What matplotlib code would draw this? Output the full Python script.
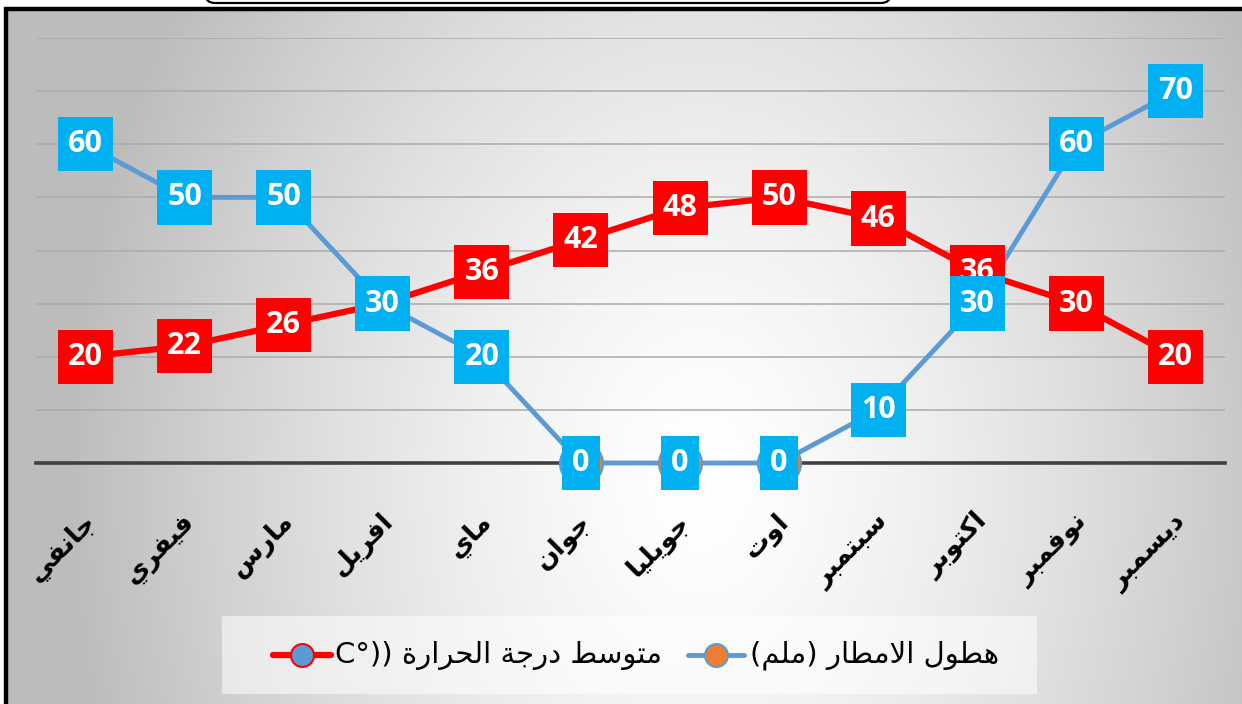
import numpy as np
import matplotlib
matplotlib.use("Agg")
import matplotlib.pyplot as plt
from matplotlib.path import Path
from matplotlib.patches import Rectangle, FancyBboxPatch
import matplotlib.transforms as mtransforms

# data
months = ["جانفي", "فيفري", "مارس", "افريل", "ماي", "جوان",
          "جويليا", "اوت", "سبتمبر", "اكتوبر", "نوفمبر", "ديسمبر"]
rain = [60, 50, 50, 30, 20, 0, 0, 0, 10, 30, 60, 70]
temp = [20, 22, 26, 30, 36, 42, 48, 50, 46, 36, 30, 20]
rain_label = "هطول الامطار (ملم)"
temp_label = "متوسط درجة الحرارة"
temp_unit = "C°))"

# matplotlib does no arabic shaping, so map letters to presentation forms
FORMS = {
    "ا": ("\ufe8d", "\ufe8e"),
    "ب": ("\ufe8f", "\ufe90", "\ufe91", "\ufe92"),
    "ة": ("\ufe93", "\ufe94"),
    "ت": ("\ufe95", "\ufe96", "\ufe97", "\ufe98"),
    "ج": ("\ufe9d", "\ufe9e", "\ufe9f", "\ufea0"),
    "ح": ("\ufea1", "\ufea2", "\ufea3", "\ufea4"),
    "د": ("\ufea9", "\ufeaa"),
    "ر": ("\ufead", "\ufeae"),
    "س": ("\ufeb1", "\ufeb2", "\ufeb3", "\ufeb4"),
    "ط": ("\ufec1", "\ufec2", "\ufec3", "\ufec4"),
    "ف": ("\ufed1", "\ufed2", "\ufed3", "\ufed4"),
    "ك": ("\ufed9", "\ufeda", "\ufedb", "\ufedc"),
    "ل": ("\ufedd", "\ufede", "\ufedf", "\ufee0"),
    "م": ("\ufee1", "\ufee2", "\ufee3", "\ufee4"),
    "ن": ("\ufee5", "\ufee6", "\ufee7", "\ufee8"),
    "ه": ("\ufee9", "\ufeea", "\ufeeb", "\ufeec"),
    "و": ("\ufeed", "\ufeee"),
    "ي": ("\ufef1", "\ufef2", "\ufef3", "\ufef4"),
}
LAM_ALEF = ("\ufefb", "\ufefc")


def shape(text):
    chars = list(text)
    out = []
    i = 0
    while i < len(chars):
        c = chars[i]
        if c not in FORMS:
            out.append(c)
            i += 1
            continue
        prev = chars[i - 1] if i > 0 else ""
        joins_prev = prev in FORMS and len(FORMS[prev]) == 4
        if c == "ل" and i + 1 < len(chars) and chars[i + 1] == "ا":
            out.append(LAM_ALEF[1 if joins_prev else 0])
            i += 2
            continue
        nxt = chars[i + 1] if i + 1 < len(chars) else ""
        f = FORMS[c]
        joins_next = len(f) == 4 and nxt in FORMS
        if joins_prev and joins_next:
            out.append(f[3])
        elif joins_prev:
            out.append(f[1])
        elif joins_next:
            out.append(f[2])
        else:
            out.append(f[0])
        i += 1
    return "".join(out)


def rtl(text):
    return shape(text)[::-1].translate(str.maketrans("()", ")("))


def label_box(x0, y0, width, height, mutation_size):
    px, py = 0.33 * mutation_size, 0.40 * mutation_size
    x0, x1 = x0 - px, x0 + width + px
    y0, y1 = y0 - py, y0 + height + py
    return Path([(x0, y0), (x1, y0), (x1, y1), (x0, y1), (x0, y0)], closed=True)


W, H = 1242, 704
fig = plt.figure(figsize=(12.42, 7.04), dpi=100)

# background in pixel coords (y down)
bg = fig.add_axes([0, 0, 1, 1], zorder=-10)
bg.set_xlim(0, W)
bg.set_ylim(H, 0)
bg.axis("off")
yy, xx = np.mgrid[8:H, 6:W]
d = np.sqrt(((xx - 700) / 600.0) ** 2 + ((yy - 480) / 820.0) ** 2)
val = (255 - 62 * np.clip(d, 0, 1.05) ** 1.4) / 255.0
bg.imshow(np.dstack([val] * 3), extent=(6, W, H, 8), aspect="auto", interpolation="bilinear")
bg.plot([6, 6, W + 10], [H + 10, 8.5, 8.5], color="black", lw=3.2, solid_joinstyle="miter")
bg.add_patch(FancyBboxPatch((205, -40), 686, 43, boxstyle="round,pad=0,rounding_size=10",
                            fc="white", ec="black", lw=1.6))

# legend (drawn by hand, right-to-left)
bg.add_patch(Rectangle((222, 616), 815, 78, fc="white", alpha=0.55, ec="none"))
bg.plot([688, 744], [655, 655], color="#5B9BD5", lw=3.5, solid_capstyle="round")
bg.plot([716], [655], marker="o", ms=16.5, mfc="#ED7D31", mec="#5B9BD5", mew=1.5)
bg.text(750, 655, rtl(rain_label), fontsize=21, va="center", ha="left", family="DejaVu Sans")
bg.plot([273, 331], [655, 655], color="#FF0000", lw=4.5, solid_capstyle="round")
bg.plot([302], [655], marker="o", ms=16.5, mfc="#5B9BD5", mec="#FF0000", mew=1.5)
bg.text(335, 655, temp_unit + " " + rtl(temp_label), fontsize=21, va="center", ha="left",
        family="DejaVu Sans")

# plot area
ax = fig.add_axes([36 / W, 1 - 463 / H, (1225 - 36) / W, (463 - 38) / H])
ax.patch.set_visible(False)
x = np.arange(len(months))
ax.set_xlim(-0.5, 11.5)
ax.set_ylim(0, 80)
ax.set_yticks(range(0, 81, 10))
ax.yaxis.grid(True, color="#ababab", lw=1.1)
ax.set_axisbelow(True)
ax.set_xticks([])
ax.tick_params(left=False, labelleft=False)
for s in ["left", "right", "top"]:
    ax.spines[s].set_visible(False)
ax.spines["bottom"].set_color("#404040")
ax.spines["bottom"].set_linewidth(2.6)

ax.plot(x, temp, color="#FF0000", lw=4.5, marker="o", ms=31, mfc="#5B9BD5",
        mec="#FF0000", mew=1.5, zorder=3, clip_on=False)
ax.plot(x, rain, color="#5B9BD5", lw=3.5, marker="o", ms=31, mfc="#ED7D31",
        mec="#5B9BD5", mew=1.5, zorder=4, clip_on=False)

for i, v in enumerate(temp):
    ax.text(i, v, str(v), color="white", fontsize=22, fontweight="bold", family="Open Sans",
            ha="center", va="center", zorder=6, clip_on=False,
            bbox=dict(boxstyle=label_box, fc="#FF0000", ec="none"))
for i, v in enumerate(rain):
    ax.text(i, v, str(v), color="white", fontsize=22, fontweight="bold", family="Open Sans",
            ha="center", va="center", zorder=7, clip_on=False,
            bbox=dict(boxstyle=label_box, fc="#00B0F0", ec="none"))

off = mtransforms.ScaledTranslation(0.06, -0.55, fig.dpi_scale_trans)
for i, m in enumerate(months):
    ax.text(i, 0, rtl(m), transform=ax.get_xaxis_transform() + off, rotation=45,
            rotation_mode="anchor", ha="right", va="center", fontsize=19,
            fontweight="bold", family="DejaVu Sans")

fig.savefig("out.png", dpi=100)
